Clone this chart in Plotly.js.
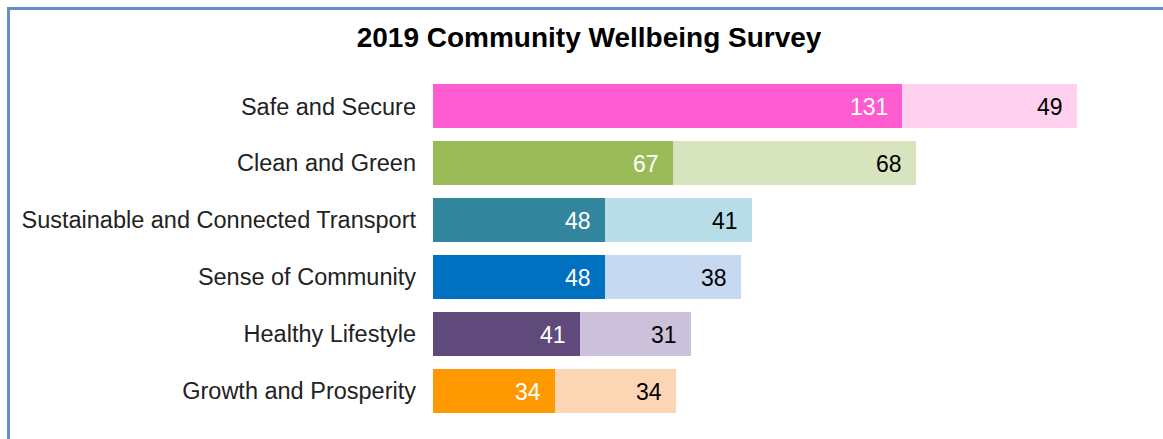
<!DOCTYPE html>
<html>
<head>
<meta charset="utf-8">
<script src="https://cdn.plot.ly/plotly-3.0.1.min.js"></script>
<style>
  html, body { margin: 0; padding: 0; background: #fff; }
  #chart { width: 1163px; height: 439px; position: relative; }
  #frame { position: absolute; left: 7px; top: 7px; width: 1200px; height: 500px;
           border-left: 3px solid #5F8ECB; border-top: 3px solid #5F8ECB; pointer-events: none; z-index: 10; }
</style>
</head>
<body>
<div id="chart"></div>
<div id="frame"></div>
<script>
const categories = ["Safe and Secure", "Clean and Green", "Sustainable and Connected Transport",
                    "Sense of Community", "Healthy Lifestyle", "Growth and Prosperity"];
const series1 = [131, 67, 48, 48, 41, 34];
const series2 = [49, 68, 41, 38, 31, 34];
const darkColors  = ["#FF5CD1", "#9BBB59", "#31859C", "#0070C0", "#604A7B", "#FF9900"];
const lightColors = ["#FFD1EF", "#D7E4BD", "#B7DEE8", "#C6D9F1", "#CCC1DA", "#FCD5B5"];

const font = "Liberation Sans, Arial, Helvetica, sans-serif";

const traces = [
  { type: "bar", orientation: "h", y: categories, x: series1,
    marker: { color: darkColors }, hoverinfo: "none" },
  { type: "bar", orientation: "h", y: categories, x: series2,
    marker: { color: lightColors }, hoverinfo: "none" }
];

const annotations = [];
categories.forEach((c, i) => {
  annotations.push({ x: series1[i], y: c, xref: "x", yref: "y", text: String(series1[i]),
    showarrow: false, xanchor: "right", yanchor: "middle", xshift: -12, yshift: -1,
    font: { family: font, size: 23, color: "#ffffff" } });
  annotations.push({ x: series1[i] + series2[i], y: c, xref: "x", yref: "y", text: String(series2[i]),
    showarrow: false, xanchor: "right", yanchor: "middle", xshift: -12, yshift: -1,
    font: { family: font, size: 23, color: "#000000" } });
});

const layout = {
  width: 1163, height: 439,
  margin: { l: 433, r: 14, t: 77.5, b: 19.5, pad: 0 },
  paper_bgcolor: "#ffffff", plot_bgcolor: "#ffffff",
  barmode: "stack", bargap: 0.228, showlegend: false,
  title: { text: "<b>2019 Community Wellbeing Survey</b>", x: 0.5065, xanchor: "center",
           y: 1 - 37 / 439, yanchor: "middle", yref: "container",
           font: { family: font, size: 28, color: "#000000" } },
  xaxis: { range: [0, 200], visible: false, fixedrange: true },
  yaxis: { autorange: "reversed", showgrid: false, zeroline: false, showline: false,
           ticks: "", ticklabelstandoff: 16,
           tickfont: { family: font, size: 23.5, color: "#222222" } },
  annotations: annotations
};

Plotly.newPlot("chart", traces, layout, { displayModeBar: false, staticPlot: true });
</script>
</body>
</html>
